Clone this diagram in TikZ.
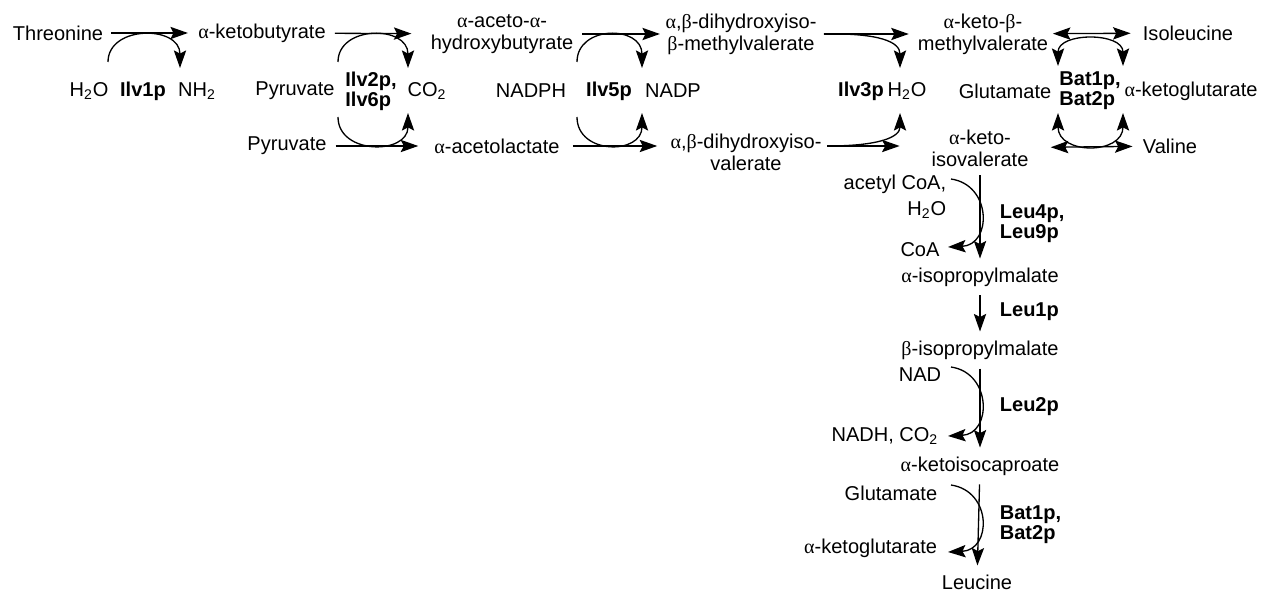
\documentclass[tikz,border=0pt]{standalone}
\usepackage{fontspec}
\setmainfont{Liberation Sans}
\newfontfamily\grk{Liberation Serif}
\usetikzlibrary{arrows.meta}

\newcommand{\alp}{{\grk α}}
\newcommand{\bet}{{\grk β}}

\begin{document}
\begin{tikzpicture}[x=0.02cm,y=-0.02cm,
  font=\fontsize{11.4}{12.5}\selectfont,
  met/.style={inner sep=2pt,align=center},
  enz/.style={inner sep=2pt,align=left,font=\fontsize{11.4}{11.2}\selectfont\bfseries},
  >={Stealth[length=10pt,width=7pt,inset=1.8pt]},
  rx/.style={->,line width=0.75pt,shorten <=3pt,shorten >=3pt},
  cof/.style={->,line width=0.75pt}]

  \useasboundingbox (0,0) rectangle (1261,591);

  % top row
  \draw (58,33) node[met] (thr) {Threonine};
  \draw (262,33) node[met] (akb) {\alp-ketobutyrate};
  \draw (502,34) node[met] (aahb) {\alp-aceto-\alp-\\hydroxybutyrate};
  \draw (741,34) node[met] (dhmv) {\alp,\bet-dihydroxyiso-\\\bet-methylvalerate};
  \draw (983,34) node[met] (akmv) {\alp-keto-\bet-\\methylvalerate};
  \draw (1188,33) node[met] (ile) {Isoleucine};

  % cofactors and enzymes
  \draw (89,91) node[met] (wat1) {H\textsubscript{2}O};
  \draw (143,91) node[enz] (ilv1) {Ilv1p};
  \draw (197,91) node[met] (nh2) {NH\textsubscript{2}};
  \draw (295,91) node[met] (pyr1) {Pyruvate};
  \draw (371,91) node[enz] (ilv26) {Ilv2p,\\Ilv6p};
  \draw (427,91) node[met] (co2) {CO\textsubscript{2}};
  \draw (531,91) node[met] (nadph) {NADPH};
  \draw (609,91) node[enz] (ilv5) {Ilv5p};
  \draw (673,91) node[met] (nadp) {NADP};
  \draw (861,91) node[enz] (ilv3) {Ilv3p};
  \draw (907,91) node[met] (wat2) {H\textsubscript{2}O};
  \draw (1005,91) node[met] (glu1) {Glutamate};
  \draw (1090,91) node[enz] (bat1) {Bat1p,\\Bat2p};
  \draw (1191,91) node[met] (akg1) {\alp-ketoglutarate};

  % bottom row
  \draw (287,146) node[met] (pyr2) {Pyruvate};
  \draw (497,146) node[met] (acl) {\alp-acetolactate};
  \draw (746,152) node[met] (dhiv) {\alp,\bet-dihydroxyiso-\\valerate};
  \draw (980,148) node[met] (akiv) {\alp-keto-\\isovalerate};
  \draw (1170,146) node[met] (val) {Valine};

  % leucine branch
  \draw (950,197) node[met,anchor=east,align=right] (acoa) {acetyl CoA,\\[2pt]H\textsubscript{2}O};
  \draw (920,250) node[met] (coa) {CoA};
  \draw (996,224) node[enz,anchor=west] (leu49) {Leu4p,\\Leu9p};
  \draw (980,277) node[met] (aipm) {\alp-isopropylmalate};
  \draw (996,312) node[enz,anchor=west] (leu1) {Leu1p};
  \draw (980,350) node[met] (bipm) {\bet-isopropylmalate};
  \draw (920,375) node[met] (nad) {NAD};
  \draw (996,407) node[enz,anchor=west] (leu2) {Leu2p};
  \draw (942,436) node[met,anchor=east] (nadh) {NADH, CO\textsubscript{2}};
  \draw (980,466) node[met] (akic) {\alp-ketoisocaproate};
  \draw (941,493) node[met,anchor=east] (glu2) {Glutamate};
  \draw (996,525) node[enz,anchor=west] (bat2) {Bat1p,\\Bat2p};
  \draw (941,548) node[met,anchor=east] (akg2) {\alp-ketoglutarate};
  \draw (977,582) node[met] (leu) {Leucine};

  % ends of the side arcs
  \coordinate (s1) at (108,62);  \coordinate (e1) at (180,68);
  \coordinate (s2) at (338,62);  \coordinate (e2) at (408,68);
  \coordinate (s3) at (338,117); \coordinate (e3) at (408,113);
  \coordinate (s4) at (577,62);  \coordinate (e4) at (642,68);
  \coordinate (s5) at (577,117); \coordinate (e5) at (642,113);
  \coordinate (e6) at (900,68);  \coordinate (e7) at (900,113);
  \coordinate (b1) at (1058,66); \coordinate (b2) at (1123,66);
  \coordinate (b3) at (1058,113); \coordinate (b4) at (1123,113);
  \coordinate (s8) at (951,179); \coordinate (e8) at (948,247);
  \coordinate (s9) at (951,367); \coordinate (e9) at (948,436);
  \coordinate (s10) at (951,485); \coordinate (e10) at (948,552);

  % main steps
  \draw[rx,shorten <=2.5pt,shorten >=3.7pt] (thr) -- (akb);
  \draw[rx,shorten >=8.8pt] (akb) -- (aahb);
  \draw[rx,shorten >=1pt] (aahb) -- (dhmv);
  \draw[rx,shorten <=2pt] (dhmv) -- (akmv);
  \draw[rx,<->,shorten <=0.5pt,shorten >=4.8pt] (akmv) -- (ile);

  \draw[rx,shorten >=7pt] (pyr2) -- (acl);
  \draw[rx,shorten <=5.4pt,shorten >=5.4pt] (acl) -- (acl -| dhiv.west);
  \draw[rx,shorten <=1pt,shorten >=16pt] (dhiv.east |- acl) -- (akiv.west |- acl);
  \draw[rx,<->,shorten <=10.5pt,shorten >=3.7pt] (akiv) -- (val);

  \draw[rx] (akiv) -- (aipm);
  \draw[rx] (aipm) -- (bipm);
  \draw[rx] (bipm) -- (akic);
  \draw[rx] (akic) -- (leu);

  % side reactions
  \draw[cof] (s1) .. controls (108,25) and (180,25) .. (e1);
  \draw[cof] (s2) .. controls (338,25) and (408,25) .. (e2);
  \draw[cof] (s3) .. controls (338,155) and (408,155) .. (e3);
  \draw[cof] (s4) .. controls (577,25) and (642,25) .. (e4);
  \draw[cof] (s5) .. controls (577,155) and (642,155) .. (e5);
  \draw[cof,shorten <=2pt] (dhmv.east) .. controls (880,33) and (900,42) .. (e6);
  \draw[cof,shorten <=1pt] (dhiv.east |- acl) .. controls (880,146) and (900,137) .. (e7);
  \draw[cof,<->] (b1) .. controls (1058,32) and (1123,32) .. (b2);
  \draw[cof,<->] (b3) .. controls (1058,155) and (1123,155) .. (b4);
  \draw[cof] (s8) .. controls (992,185) and (992,245) .. (e8);
  \draw[cof] (s9) .. controls (992,373) and (992,434) .. (e9);
  \draw[cof] (s10) .. controls (992,491) and (992,550) .. (e10);

\end{tikzpicture}
\end{document}
